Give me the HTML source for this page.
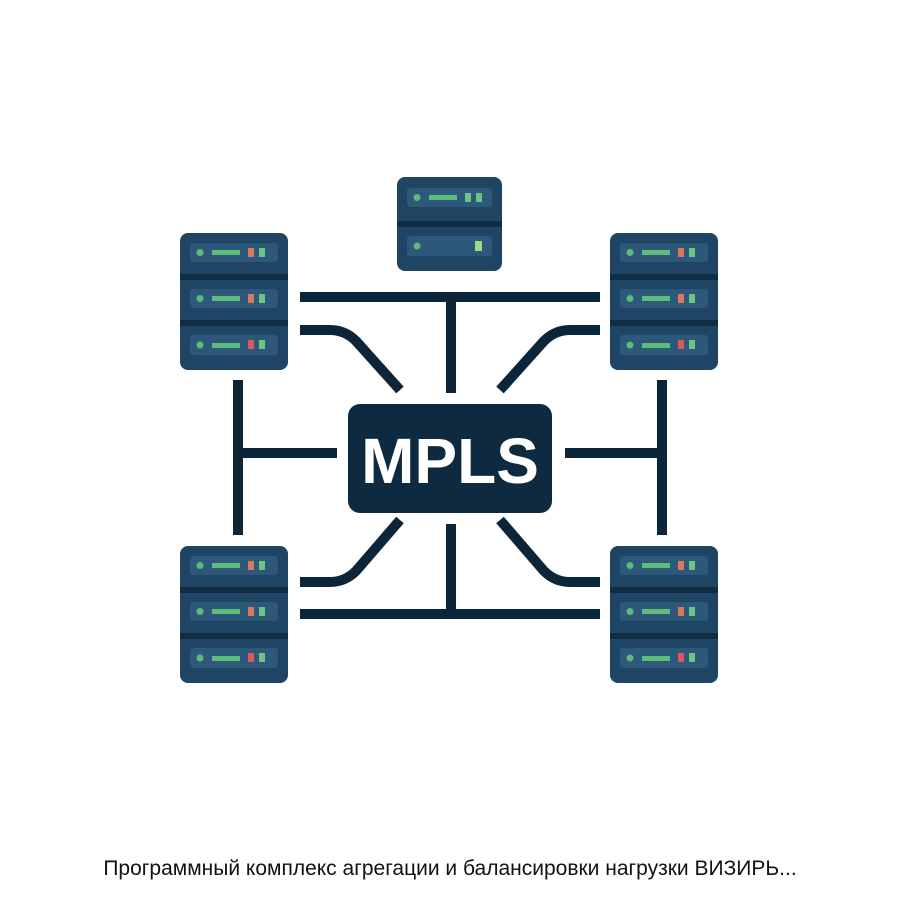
<!DOCTYPE html>
<html><head><meta charset="utf-8"><style>
html,body{margin:0;padding:0;background:#fff;width:900px;height:900px;overflow:hidden}
.cap{position:absolute;left:0;top:857px;width:900px;text-align:center;font-family:"Liberation Sans",sans-serif;font-size:21px;color:#111}
</style></head><body>
<svg width="900" height="900" style="position:absolute;left:0;top:0">
<defs>
<g id="u3">
<rect x="0" y="0" width="108" height="137" rx="8" fill="#1f4464"/>
<rect x="0" y="41" width="108" height="6" fill="#112d45"/>
<rect x="0" y="87" width="108" height="6" fill="#112d45"/>
<rect x="10" y="10" width="88" height="19" rx="3" fill="#2d587a"/>
<rect x="10" y="56" width="88" height="19" rx="3" fill="#2d587a"/>
<rect x="10" y="102" width="88" height="20" rx="3" fill="#2d587a"/>
<circle cx="20" cy="19.5" r="3.5" fill="#5dbb7c"/><rect x="32" y="17" width="28" height="5" fill="#5dbb7c"/><rect x="68" y="15" width="6" height="9" fill="#d9785a"/><rect x="79" y="15" width="6" height="9" fill="#6cc585"/>
<circle cx="20" cy="65.5" r="3.5" fill="#5dbb7c"/><rect x="32" y="63" width="28" height="5" fill="#5dbb7c"/><rect x="68" y="61" width="6" height="9" fill="#d9785a"/><rect x="79" y="61" width="6" height="9" fill="#6cc585"/>
<circle cx="20" cy="112" r="3.5" fill="#5dbb7c"/><rect x="32" y="110" width="28" height="5" fill="#5dbb7c"/><rect x="68" y="107" width="6" height="9" fill="#d9585a"/><rect x="79" y="107" width="6" height="9" fill="#6cc585"/>
</g>
</defs>
<use href="#u3" x="180" y="233"/>
<use href="#u3" x="610" y="233"/>
<use href="#u3" x="180" y="546"/>
<use href="#u3" x="610" y="546"/>
<g transform="translate(397,177)">
<rect x="0" y="0" width="105" height="94" rx="8" fill="#1f4464"/>
<rect x="0" y="44" width="105" height="6" fill="#112d45"/>
<rect x="10" y="11" width="85" height="19" rx="3" fill="#2d587a"/>
<rect x="10" y="59" width="85" height="20" rx="3" fill="#2d587a"/>
<circle cx="20" cy="20.5" r="3.5" fill="#5dbb7c"/><rect x="32" y="18" width="28" height="5" fill="#5dbb7c"/><rect x="68" y="16" width="6" height="9" fill="#6cc585"/><rect x="79" y="16" width="6" height="9" fill="#6cc585"/>
<circle cx="20" cy="69" r="3.5" fill="#5dbb7c"/><rect x="78" y="64" width="7" height="10" fill="#9ddb8a"/>
</g>
<g stroke="#0c2538" stroke-width="10" fill="none">
<path d="M300 297 H600 M451 297 V393"/>
<path d="M300 330 H330 Q345 330 356 341 L400 390"/>
<path d="M600 330 H570 Q555 330 544 341 L500 390"/>
<path d="M238 380 V535 M238 453 H337"/>
<path d="M662 380 V535 M662 453 H565"/>
<path d="M451 524 V614 M300 614 H600"/>
<path d="M400 520 L356 571 Q345 582 330 582 H300"/>
<path d="M500 520 L544 571 Q555 582 570 582 H600"/>
</g>
<rect x="348" y="404" width="204" height="109" rx="12" fill="#0d2a40"/>
<text x="450" y="483" text-anchor="middle" font-family="Liberation Sans, sans-serif" font-weight="bold" font-size="64" fill="#fff">MPLS</text>
</svg>
<div class="cap">Программный комплекс агрегации и балансировки нагрузки ВИЗИРЬ...</div>
</body></html>
